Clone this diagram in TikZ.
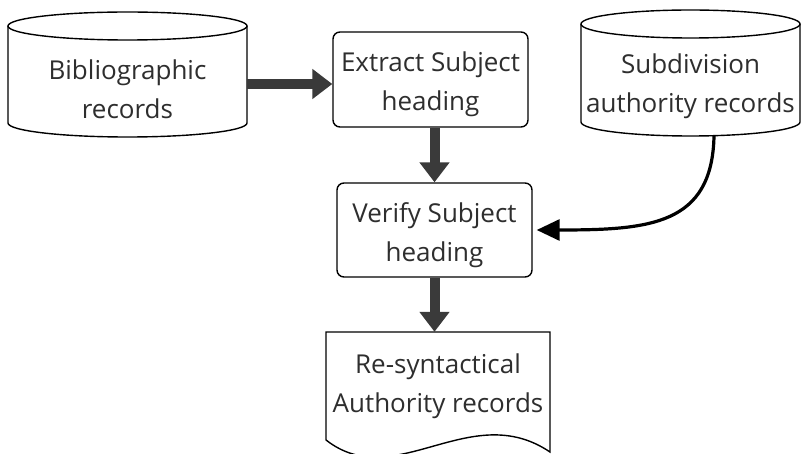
\documentclass[tikz,border=0pt]{standalone}
\usepackage{fontspec}
\setmainfont{Open Sans}
\usetikzlibrary{arrows.meta}
\definecolor{arrowgray}{HTML}{3A3A3A}
\definecolor{txtgray}{HTML}{2E2E2E}
\begin{document}
\begin{tikzpicture}[x=1pt,y=-1pt,
  txt/.style={align=center,text=txtgray,font=\fontsize{26pt}{39pt}\selectfont,inner sep=0pt},
  shapeline/.style={draw=black,line width=1.4pt},
  procbox/.style={shapeline,rounded corners=7pt,minimum width=195pt,minimum height=95pt,inner sep=0pt},
  blockarrow/.style={draw=arrowgray,line width=10pt,-{Triangle[length=20pt,width=29pt]},arrowgray},
  curvearrow/.style={draw=black,line width=3.2pt,-{Triangle[length=23pt,width=21pt]}}]
\useasboundingbox (0,0) rectangle (802,454);
\fill[white] (0,0) rectangle (802,454);

% Bibliographic records cylinder
\draw[shapeline] (8,26) -- (8,123) arc[start angle=180,end angle=360,x radius=119.5pt,y radius=14pt] -- (247,26);
\draw[shapeline] (127.5,26) ellipse[x radius=119.5pt,y radius=14pt];
\node[txt,minimum width=239pt,minimum height=96pt] (bib) at (127.5,89) {Bibliographic\\records};

% Subdivision authority records cylinder
\draw[shapeline] (581,24) -- (581,122) arc[start angle=180,end angle=360,x radius=109.5pt,y radius=14pt] -- (800,24);
\draw[shapeline] (690.5,24) ellipse[x radius=109.5pt,y radius=14pt];
\node[minimum width=219pt,minimum height=108pt,inner sep=0pt] (sub) at (690.5,82) {};
\node[txt] (subT) at (690.5,86) {Subdivision\\authority records};

% Process boxes
\node[procbox] (ext) at (430.5,79.5) {};
\node[txt] (extT) at (430.5,84.5) {Extract Subject\\heading};
\node[procbox,minimum height=94pt] (ver) at (434.5,230) {};
\node[txt] (verT) at (434.5,235) {Verify Subject\\heading};

% Document
\draw[shapeline] (326,440) -- (326,332) -- (550,332) -- (550,452)
  .. controls (470,398) and (395,494) .. (326,440) -- cycle;
\node[txt,minimum width=224pt,minimum height=108pt] (doc) at (438,386) {Re-syntactical\\Authority records};

% Connectors
\draw[blockarrow] ([yshift=5pt]bib.east) -- ([yshift=5pt]bib.east -| ext.west);
\draw[blockarrow] (ver.north |- ext.south) -- (ver.north);
\draw[blockarrow] (ver.south) -- (ver.south |- doc.north);
\draw[curvearrow] ([xshift=23.5pt]sub.south) .. controls (712,225) and (650,230) .. ([xshift=4pt]ver.east);
\end{tikzpicture}
\end{document}
